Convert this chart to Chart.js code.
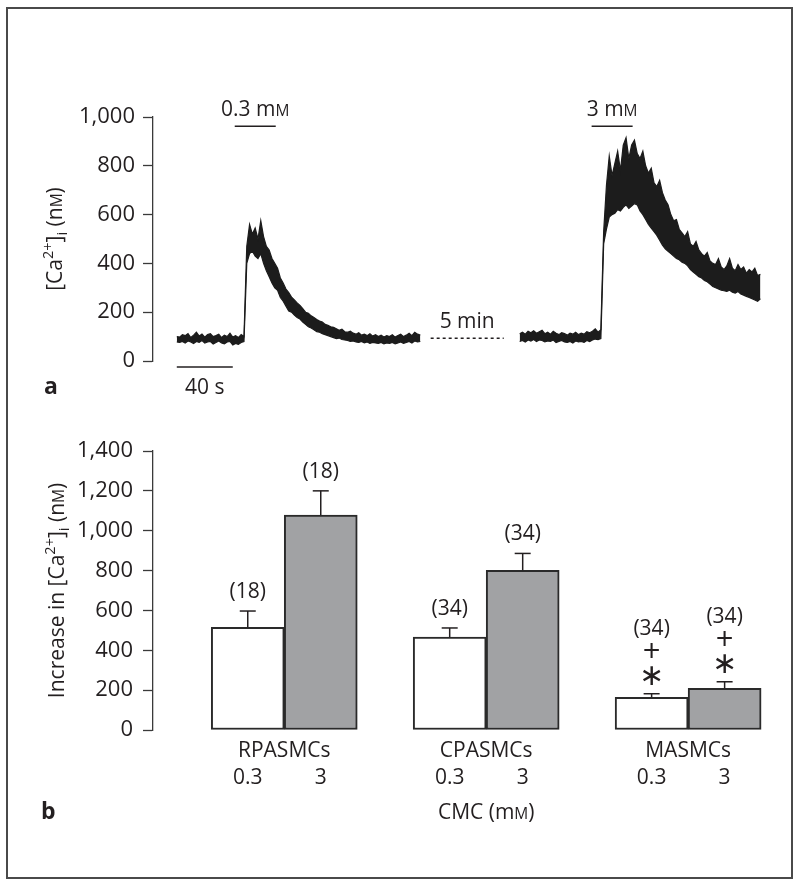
<!DOCTYPE html>
<html>
<head>
<meta charset="utf-8">
<script src="https://cdn.jsdelivr.net/npm/chart.js@4/dist/chart.umd.min.js"></script>
<style>
    body { margin: 0; background: #fff; }
    #frame { position: absolute; left: 6px; top: 7px; width: 787px; height: 872px; border: 2px solid #4a4a4a; box-sizing: border-box; }
    #traceChart { position: absolute; left: 0; top: 0; }
    #barChart { position: absolute; left: 0; top: 410px; }
</style>
</head>
<body>
<div id="frame"></div>
<canvas id="traceChart" width="800" height="410"></canvas>
<canvas id="barChart" width="800" height="470"></canvas>
<script>
// ---- panel a : [Ca2+]i trace (s), the gap between the two runs stands for 5 min
const sampleStep = 2;
const seg1Start = 0;
const seg1Upper = [
    100, 98, 108, 104, 112, 96, 106, 118, 102, 110,
    98, 108, 112, 100, 104, 110, 96, 106, 100, 114,
    98, 104, 96, 108, 100, 470, 560, 520, 545, 500,
    575, 510, 470, 455, 420, 400, 380, 340, 320, 295,
    280, 262, 250, 238, 228, 215, 200, 196, 185, 178,
    170, 164, 160, 150, 146, 140, 138, 132, 126, 130,
    120, 118, 122, 114, 110, 116, 106, 110, 104, 112,
    102, 108, 100, 106, 98, 104, 100, 108, 98, 104,
    110, 100, 106, 114, 104, 118, 110, 106
];
const seg1Lower = [
    78, 76, 80, 74, 82, 78, 72, 80, 76, 84,
    74, 78, 80, 70, 76, 82, 74, 70, 78, 80,
    66, 72, 68, 76, 80, 400, 440, 450, 430, 420,
    440, 400, 370, 345, 320, 300, 290, 260, 245, 225,
    205, 200, 188, 178, 172, 160, 150, 140, 135, 128,
    120, 118, 112, 108, 104, 100, 96, 92, 94, 88,
    86, 84, 80, 82, 78, 76, 80, 74, 78, 72,
    76, 74, 72, 76, 70, 74, 72, 76, 70, 74,
    78, 72, 76, 80, 74, 82, 78, 80
];
const seg2Start = 245;
const seg2Upper = [
    112, 118, 110, 122, 116, 124, 114, 120, 126, 112,
    118, 110, 122, 114, 108, 116, 112, 106, 114, 110,
    118, 108, 114, 110, 120, 116, 122, 132, 118, 128,
    530, 720, 840, 760, 810, 860, 780, 885, 915, 830,
    885, 905, 850, 830, 860, 800, 770, 790, 730, 715,
    740, 690, 660, 640, 600, 575, 580, 540, 525, 510,
    530, 480, 470, 490, 455, 440, 430, 445, 410, 400,
    395, 420, 385, 375, 390, 420, 380, 370, 395, 375,
    385, 360, 375, 365, 380, 350, 355
];
const seg2Lower = [
    80, 84, 78, 86, 82, 88, 80, 86, 84, 78,
    82, 80, 86, 76, 80, 84, 78, 76, 80, 74,
    82, 78, 80, 76, 84, 80, 86, 90, 88, 92,
    480, 540, 590, 600, 605, 620, 615, 630, 640, 625,
    635, 645, 640, 615, 600, 580, 560, 545, 530, 515,
    495, 475, 460, 450, 440, 430, 420, 415, 405, 400,
    390, 375, 365, 355, 345, 340, 330, 325, 315, 305,
    300, 295, 290, 288, 285, 290, 282, 278, 285, 275,
    270, 265, 260, 255, 250, 245, 255
];
const stimLabels = ['0.3 m', '3 m'];
const stimStart = [41.4, 296.4];
const stimEnd = [70.7, 325.7];
const stimLevel = 962;
const gapStart = 181.4;
const gapEnd = 233.6;
const gapLevel = 93;
const scaleBarSec = 40;

// ---- panel b : increase in [Ca2+]i (nM), mean + SEM
const cellTypes = ['RPASMCs', 'CPASMCs', 'MASMCs'];
const doses = ['0.3', '3'];
const lowDose = [515, 466, 164];
const lowDoseErr = [82, 46, 18];
const highDose = [1079, 801, 209];
const highDoseErr = [121, 85, 33];
const lowN = ['(18)', '(34)', '(34)'];
const highN = ['(18)', '(34)', '(34)'];
const marked = [false, false, true];

const INK = '#231f20';
const FAMILY = '"Open Sans", "DejaVu Sans", sans-serif';
const SIZE = 21;

function fontFor(kind) {
    if (kind === 'sup' || kind === 'sub') return '14.5px ' + FAMILY;
    if (kind === 'sc') return '15.5px ' + FAMILY;
    return SIZE + 'px ' + FAMILY;
}

// text with superscript / subscript / small caps parts, y is the baseline
function drawRich(ctx, parts, x, y, align) {
    const widths = parts.map(p => {
        ctx.font = fontFor(p[1]);
        return ctx.measureText(p[0]).width;
    });
    const total = widths.reduce((a, b) => a + b, 0);
    let cx = align === 'center' ? x - total / 2 : x;
    ctx.textAlign = 'left';
    ctx.textBaseline = 'alphabetic';
    parts.forEach((p, i) => {
        ctx.font = fontFor(p[1]);
        const dy = p[1] === 'sup' ? -9 : (p[1] === 'sub' ? 5 : 0);
        ctx.fillText(p[0], cx, y + dy);
        cx += widths[i];
    });
}

function drawRotated(ctx, parts, cx, cy) {
    ctx.save();
    ctx.translate(cx, cy);
    ctx.rotate(-Math.PI / 2);
    drawRich(ctx, parts, 0, 7, 'center');
    ctx.restore();
}

function line(ctx, x1, y1, x2, y2) {
    ctx.beginPath();
    ctx.moveTo(x1, y1);
    ctx.lineTo(x2, y2);
    ctx.stroke();
}

function toPoints(values, start) {
    return values.map((v, i) => ({ x: start + i * sampleStep, y: v }));
}

function band(values, start, fill) {
    return {
        data: toPoints(values, start),
        borderColor: '#1c1c1c',
        backgroundColor: '#1c1c1c',
        borderWidth: 1.2,
        pointRadius: 0,
        tension: 0,
        fill: fill
    };
}

function yAxis(max, width, pad) {
    return {
        min: 0,
        max: max,
        afterFit: s => { s.width = width; },
        ticks: {
            stepSize: 200,
            padding: pad,
            color: INK,
            font: { family: FAMILY, size: 22 },
            callback: v => v.toLocaleString('en-US')
        },
        grid: { drawOnChartArea: false, drawTicks: true, tickLength: 10, color: '#3a3a3a', tickWidth: 1.3 },
        border: { display: true, color: '#3a3a3a', width: 1.3 }
    };
}

const traceNotes = {
    id: 'traceNotes',
    afterDraw(chart) {
        const { ctx, chartArea, scales: { x, y } } = chart;
        ctx.save();
        ctx.strokeStyle = INK;
        ctx.fillStyle = INK;
        ctx.lineWidth = 1.6;

        stimStart.forEach((s, i) => {
            const x1 = x.getPixelForValue(s);
            const x2 = x.getPixelForValue(stimEnd[i]);
            const yy = y.getPixelForValue(stimLevel);
            line(ctx, x1, yy, x2, yy);
            drawRich(ctx, [[stimLabels[i], 'n'], ['M', 'sc']], (x1 + x2) / 2, yy - 10, 'center');
        });

        const gy = y.getPixelForValue(gapLevel);
        const g1 = x.getPixelForValue(gapStart);
        const g2 = x.getPixelForValue(gapEnd);
        ctx.setLineDash([3, 3]);
        ctx.lineWidth = 1.5;
        line(ctx, g1, gy, g2, gy);
        ctx.setLineDash([]);
        drawRich(ctx, [['5 min', 'n']], (g1 + g2) / 2, gy - 10.5, 'center');

        const sb1 = x.getPixelForValue(0);
        const sb2 = x.getPixelForValue(scaleBarSec);
        const sby = chartArea.bottom + 6;
        ctx.lineWidth = 1.6;
        line(ctx, sb1, sby, sb2, sby);
        drawRich(ctx, [[scaleBarSec + ' s', 'n']], (sb1 + sb2) / 2, chartArea.bottom + 33, 'center');

        ctx.font = 'bold 23px ' + FAMILY;
        ctx.textAlign = 'left';
        ctx.fillText('a', 44, chartArea.bottom + 33);

        drawRotated(ctx, [['[Ca', 'n'], ['2+', 'sup'], [']', 'n'], ['i', 'sub'], [' (n', 'n'], ['M', 'sc'], [')', 'n']],
            55, (chartArea.top + chartArea.bottom) / 2);
        ctx.restore();
    }
};

new Chart(document.getElementById('traceChart'), {
    type: 'line',
    data: {
        datasets: [
            band(seg1Upper, seg1Start, '+1'),
            band(seg1Lower, seg1Start, false),
            band(seg2Upper, seg2Start, '+1'),
            band(seg2Lower, seg2Start, false)
        ]
    },
    options: {
        responsive: false,
        animation: false,
        events: [],
        layout: { padding: { top: 117, bottom: 49, left: 0, right: 20 } },
        plugins: { legend: { display: false }, tooltip: { enabled: false } },
        scales: {
            x: { type: 'linear', min: -17, max: 431, display: false },
            y: yAxis(1000, 153, 8)
        }
    },
    plugins: [traceNotes]
});

const barNotes = {
    id: 'barNotes',
    afterDatasetsDraw(chart) {
        const { ctx, scales: { y } } = chart;
        const sets = [[lowDose, lowDoseErr, lowN], [highDose, highDoseErr, highN]];
        ctx.save();
        ctx.strokeStyle = INK;
        ctx.fillStyle = INK;
        ctx.lineWidth = 1.5;
        sets.forEach((s, d) => {
            const meta = chart.getDatasetMeta(d);
            meta.data.forEach((el, i) => {
                const top = y.getPixelForValue(s[0][i] + s[1][i]);
                line(ctx, el.x, el.y, el.x, top);
                line(ctx, el.x - 8, top, el.x + 8, top);
                ctx.textAlign = 'center';
                ctx.textBaseline = 'middle';
                if (marked[i]) {
                    ctx.font = '30px "DejaVu Sans", sans-serif';
                    ctx.fillText('\u2217', el.x, top - 17);
                    ctx.font = '31px ' + FAMILY;
                    ctx.fillText('+', el.x, top - 41);
                    ctx.font = SIZE + 'px ' + FAMILY;
                    ctx.fillText(s[2][i], el.x, top - 65);
                } else {
                    ctx.font = SIZE + 'px ' + FAMILY;
                    ctx.fillText(s[2][i], el.x, top - 19);
                }
            });
        });
        ctx.restore();
    },
    afterDraw(chart) {
        const { ctx, chartArea, scales: { x } } = chart;
        ctx.save();
        ctx.fillStyle = INK;
        cellTypes.forEach((c, i) => {
            drawRich(ctx, [[c, 'n']], x.getPixelForValue(i + 1), chartArea.bottom + 27, 'center');
            [0, 1].forEach(d => {
                const el = chart.getDatasetMeta(d).data[i];
                drawRich(ctx, [[doses[d], 'n']], el.x, chartArea.bottom + 53.5, 'center');
            });
        });
        drawRich(ctx, [['CMC (m', 'n'], ['M', 'sc'], [')', 'n']], x.getPixelForValue(2), chartArea.bottom + 89, 'center');
        ctx.font = 'bold 23px ' + FAMILY;
        ctx.textAlign = 'left';
        ctx.fillText('b', 41, chartArea.bottom + 89);
        drawRotated(ctx, [['Increase in [Ca', 'n'], ['2+', 'sup'], [']', 'n'], ['i', 'sub'], [' (n', 'n'], ['M', 'sc'], [')', 'n']],
            57, (chartArea.top + chartArea.bottom) / 2);
        ctx.restore();
    }
};

const barStyle = {
    borderColor: '#2a2a2a',
    borderWidth: 2,
    borderSkipped: false,
    barThickness: 73
};

new Chart(document.getElementById('barChart'), {
    type: 'bar',
    data: {
        datasets: [
            Object.assign({ data: lowDose.map((v, i) => ({ x: i + 1, y: v })), backgroundColor: '#ffffff' }, barStyle),
            Object.assign({ data: highDose.map((v, i) => ({ x: i + 1, y: v })), backgroundColor: '#a1a2a4' }, barStyle)
        ]
    },
    options: {
        responsive: false,
        animation: false,
        events: [],
        layout: { padding: { top: 41, bottom: 150, left: 0, right: 20 } },
        plugins: { legend: { display: false }, tooltip: { enabled: false } },
        scales: {
            x: { type: 'linear', min: 0.35, max: 3.455, offset: false, display: false },
            y: yAxis(1400, 153, 10)
        }
    },
    plugins: [barNotes]
});
</script>
</body>
</html>
